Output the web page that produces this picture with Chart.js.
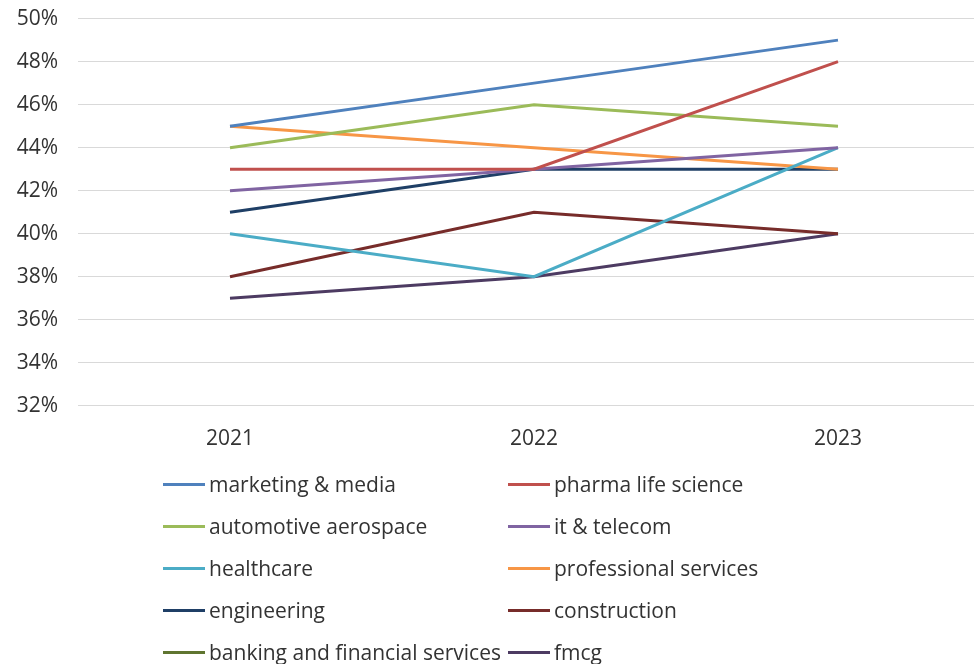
<!DOCTYPE html>
<html>
<head>
<meta charset="utf-8">
<script src="https://cdn.jsdelivr.net/npm/chart.js"></script>
<style>
    html, body { margin: 0; padding: 0; background: #fff; overflow: hidden; }
    #wrap { position: relative; width: 990px; height: 664px; }
    #chartBox { position: absolute; left: 0; top: -14px; width: 990px; height: 479px; }
    #legend {
        position: absolute; left: 163px; top: 463px;
        display: grid; grid-template-columns: 345px 300px; grid-auto-rows: 42px;
        font-family: 'Open Sans', sans-serif; font-size: 21px; color: #333;
    }
    .item { display: flex; align-items: center; white-space: nowrap; }
    .swatch { width: 42px; height: 3px; margin-right: 4px; flex: none; }
</style>
</head>
<body>
<div id="wrap">
    <div id="chartBox"><canvas id="lineChart"></canvas></div>
    <div id="legend"></div>
</div>
<script>
    // 연도별 카테고리
    const years = ['2021', '2022', '2023'];

    // 업종별 비율 (%)
    const marketingMedia = [45, 47, 49];
    const pharmaLifeScience = [43, 43, 48];
    const automotiveAerospace = [44, 46, 45];
    const itTelecom = [42, 43, 44];
    const healthcare = [40, 38, 44];
    const professionalServices = [45, 44, 43];
    const engineering = [41, 43, 43];
    const construction = [38, 41, 40];
    const bankingFinancial = [null, null, null];
    const fmcg = [37, 38, 40];

    const seriesNames = [
        'marketing & media', 'pharma life science',
        'automotive aerospace', 'it & telecom',
        'healthcare', 'professional services',
        'engineering', 'construction',
        'banking and financial services', 'fmcg'
    ];
    const seriesValues = [
        marketingMedia, pharmaLifeScience,
        automotiveAerospace, itTelecom,
        healthcare, professionalServices,
        engineering, construction,
        bankingFinancial, fmcg
    ];
    const seriesColors = [
        '#4f81bd', '#c0504d',
        '#9bbb59', '#8064a2',
        '#4bacc6', '#f79646',
        '#1f3f66', '#772c2a',
        '#5f7530', '#4d3b62'
    ];

    // y축 눈금 범위
    const yMin = 32;
    const yMax = 50;
    const yStep = 2;

    const legendElement = document.getElementById('legend');

    // 범례를 두 열 HTML로 그리기
    const htmlLegend = {
        id: 'htmlLegend',
        afterUpdate(chart) {
            legendElement.innerHTML = '';
            const items = chart.options.plugins.legend.labels.generateLabels(chart);
            items.forEach(item => {
                const row = document.createElement('div');
                row.className = 'item';
                const swatch = document.createElement('span');
                swatch.className = 'swatch';
                swatch.style.background = item.strokeStyle;
                const text = document.createElement('span');
                text.textContent = item.text;
                row.appendChild(swatch);
                row.appendChild(text);
                legendElement.appendChild(row);
            });
        }
    };

    const datasets = seriesNames.map((name, i) => ({
        label: name,
        data: seriesValues[i],
        borderColor: seriesColors[i],
        backgroundColor: seriesColors[i],
        borderWidth: 3,
        pointRadius: 0,
        fill: false,
        tension: 0
    }));

    new Chart(document.getElementById('lineChart'), {
        type: 'line',
        data: { labels: years, datasets },
        options: {
            responsive: true,
            maintainAspectRatio: false,
            animation: false,
            layout: { padding: { top: 8, right: 0, bottom: 0, left: 0 } },
            plugins: {
                legend: { display: false },
                tooltip: { enabled: false }
            },
            scales: {
                x: {
                    offset: true,
                    grid: { display: false },
                    border: { display: false },
                    ticks: {
                        padding: 13,
                        color: '#333',
                        font: { family: 'Open Sans', size: 21 }
                    }
                },
                y: {
                    min: yMin,
                    max: yMax,
                    afterFit(scale) { scale.width = 78; },
                    grid: { color: '#d9d9d9', lineWidth: 1, drawTicks: false },
                    border: { display: false },
                    ticks: {
                        stepSize: yStep,
                        padding: 20,
                        color: '#333',
                        font: { family: 'Open Sans', size: 21 },
                        callback: value => value + '%'
                    }
                }
            }
        },
        plugins: [htmlLegend]
    });
</script>
</body>
</html>
